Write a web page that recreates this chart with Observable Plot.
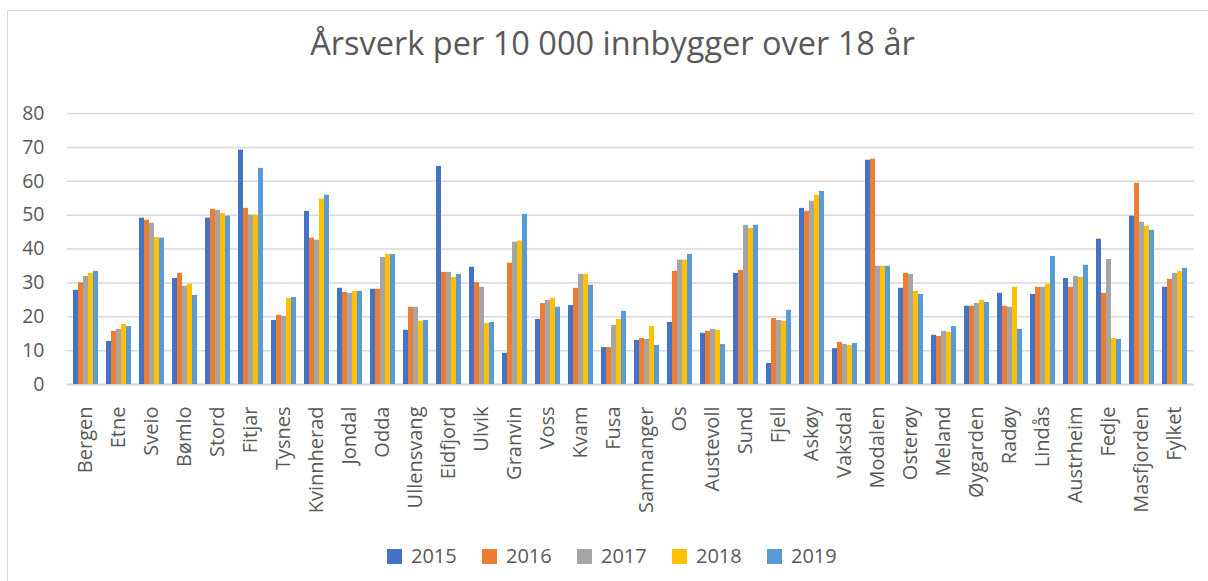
<!DOCTYPE html>
<html>
<head>
<meta charset="utf-8">
<script src="https://cdn.jsdelivr.net/npm/d3@7"></script>
<script src="https://cdn.jsdelivr.net/npm/@observablehq/plot@0.6"></script>
<style>
  html, body { margin: 0; padding: 0; background: #fff; }
  #wrap { position: relative; width: 1208px; height: 581px; overflow: hidden; font-family: "Open Sans", sans-serif; }
  #frame { position: absolute; left: 7px; top: 10px; width: 1300px; height: 700px; border-top: 1.5px solid #d9d9d9; border-left: 1.5px solid #d9d9d9; }
  #title { position: absolute; left: 0; width: 1225px; top: 20px; text-align: center; font-size: 32.5px; color: #595959; white-space: nowrap; }
  #chart { position: absolute; left: 0; top: 100px; }
  #legend { position: absolute; left: 387px; top: 542px; display: flex; font-size: 20px; color: #595959; line-height: 28px; }
  .item { display: flex; align-items: center; width: 95px; }
  .sw { width: 15px; height: 15px; margin-right: 9px; }
</style>
</head>
<body>
<div id="wrap">
  <div id="frame"></div>
  <div id="title"></div>
  <div id="chart"></div>
  <div id="legend"></div>
</div>
<script>
const titleText = "Årsverk per 10 000 innbygger over 18 år";
const kommuner = ["Bergen","Etne","Sveio","Bømlo","Stord","Fitjar","Tysnes","Kvinnherad","Jondal","Odda","Ullensvang","Eidfjord","Ulvik","Granvin","Voss","Kvam","Fusa","Samnanger","Os","Austevoll","Sund","Fjell","Askøy","Vaksdal","Modalen","Osterøy","Meland","Øygarden","Radøy","Lindås","Austrheim","Fedje","Masfjorden","Fylket"];
const years = ["2015","2016","2017","2018","2019"];
const colors = ["#4472C4","#ED7D31","#A5A5A5","#FFC000","#5B9BD5"];
const v2015 = [27.8,12.7,49.1,31.3,49.1,69.2,18.9,51.1,28.4,28.1,16.0,64.4,34.6,9.2,19.2,23.3,10.9,13.0,18.3,15.1,32.8,6.2,52.0,10.6,66.2,28.4,14.5,23.1,26.9,26.6,31.3,42.9,49.7,28.7];
const v2016 = [30.0,15.7,48.5,32.8,51.7,52.0,20.4,43.2,27.2,28.1,22.8,33.1,30.1,35.8,23.9,28.4,10.9,13.6,33.4,15.7,33.7,19.5,51.1,12.4,66.5,32.8,14.2,23.1,23.1,28.7,28.7,26.9,59.4,31.0];
const v2017 = [31.9,16.3,47.6,29.0,51.4,50.0,20.1,42.6,26.9,37.5,22.8,33.1,28.7,42.0,24.8,32.5,17.4,13.3,36.7,16.3,47.0,18.9,54.1,11.8,34.9,32.5,15.7,23.9,22.8,28.7,31.9,36.9,47.9,32.8];
const v2018 = [32.8,17.7,43.4,29.6,50.5,50.0,25.4,54.7,27.5,38.4,18.6,31.6,18.0,42.3,25.4,32.5,19.2,17.1,36.7,16.0,46.1,18.6,55.9,11.5,34.9,27.5,15.4,24.8,28.7,29.6,31.6,13.6,46.7,33.4];
const v2019 = [33.4,17.1,43.2,26.3,49.7,63.8,25.7,55.9,27.5,38.4,18.9,32.5,18.3,50.2,22.8,29.3,21.6,11.5,38.4,11.8,47.0,21.9,57.0,12.1,34.9,26.6,17.1,24.2,16.3,37.8,35.2,13.3,45.5,34.3];
const yTicks = [0,10,20,30,40,50,60,70,80];

const series = [v2015, v2016, v2017, v2018, v2019];
const data = years.flatMap((yr, j) => kommuner.map((k, i) => ({kommune: k, year: yr, value: series[j][i]})));

document.getElementById("title").textContent = titleText;

const n = kommuner.length;
const left = 67, right = 1193.6;
const step = (right - left) / n;
const barW = 5;
const pIn = 1 - barW / step;

const chart = Plot.plot({
  width: 1208,
  height: 440,
  marginLeft: left,
  marginRight: 1208 - right,
  marginTop: 13,
  marginBottom: 156,
  style: {fontFamily: "'Open Sans', sans-serif", color: "#595959", background: "transparent", fontSize: "20px"},
  x: {type: "band", domain: kommuner, paddingInner: pIn, paddingOuter: pIn / 2},
  y: {domain: [0, 80]},
  color: {domain: years, range: colors},
  marks: [
    Plot.ruleY(yTicks, {stroke: "#d9d9d9", strokeWidth: 1.5}),
    Plot.ruleY([0], {stroke: "#d9d9d9", strokeWidth: 2}),
    ...years.map((yr, j) => Plot.barY(data.filter(d => d.year === yr), {x: "kommune", y: "value", fill: "year", dx: (j - 2) * barW})),
    Plot.axisY({ticks: yTicks, tickSize: 0, tickPadding: 23, fontSize: 19.5, label: null, fill: "#595959"}),
    Plot.axisX({tickRotate: -90, tickSize: 0, tickPadding: 22, fontSize: 20, label: null, fill: "#595959"})
  ]
});
document.getElementById("chart").appendChild(chart);

const legend = document.getElementById("legend");
years.forEach((yr, j) => {
  const it = document.createElement("div");
  it.className = "item";
  const sw = document.createElement("div");
  sw.className = "sw";
  sw.style.background = colors[j];
  const t = document.createElement("span");
  t.textContent = yr;
  it.appendChild(sw); it.appendChild(t);
  legend.appendChild(it);
});
</script>
</body>
</html>
